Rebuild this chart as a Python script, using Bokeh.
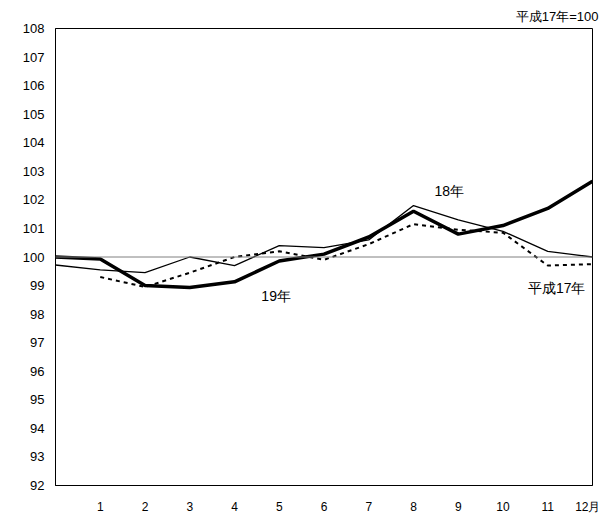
from bokeh.plotting import figure
from bokeh.models import Label, Span, FixedTicker
from bokeh.embed import file_html
from bokeh.resources import INLINE

months = [0,1,2,3,4,5,6,7,8,9,10,11,12]
h19 = [100.0,99.93,99.0,98.93,99.13,99.86,100.1,100.7,101.6,100.8,101.1,101.7,102.65]
h18 = [99.72,99.55,99.45,100.0,99.7,100.4,100.33,100.6,101.8,101.3,100.9,100.2,100.0]
m17 = [1,2,3,4,5,6,7,8,9,10,11,12]
h17 = [99.3,98.95,99.45,100.0,100.2,99.9,100.45,101.15,100.95,100.85,99.7,99.75]
xlabels = {i: str(i) for i in range(1,12)}
xlabels[12] = "12月"

F = "Liberation Sans"
p = figure(width=600, height=516, x_range=(0,12), y_range=(92,108),
           output_backend="svg", toolbar_location=None,
           min_border_left=55, min_border_right=8, min_border_top=28, min_border_bottom=20,
           title="平成17年=100")
p.title.align = "right"
p.title.text_font = F
p.title.text_font_size = "13px"
p.title.text_font_style = "normal"
p.title.text_color = "black"
p.title.offset = -6
p.xgrid.visible = False
p.ygrid.visible = False
p.outline_line_color = "black"
p.xaxis.ticker = FixedTicker(ticks=list(range(1,13)))
p.xaxis.major_label_overrides = xlabels
p.yaxis.ticker = FixedTicker(ticks=list(range(92,109)))
for ax in (p.xaxis[0], p.yaxis[0]):
    ax.major_tick_line_color = None
    ax.minor_tick_line_color = None
    ax.axis_line_color = "black"
    ax.major_label_text_font = F
    ax.major_label_text_font_size = "13px"
    ax.major_label_text_color = "black"
p.xaxis.major_label_text_font_size = "12px"
p.xaxis.major_label_standoff = 8

p.add_layout(Span(location=100, dimension="width", line_color="gray", line_width=1))
p.line(m17, h17, line_color="black", line_width=2, line_dash="4 4")
p.line(months, h18, line_color="black", line_width=1.3)
p.line(months, h19, line_color="black", line_width=3.5)

for x, y, t, a in [(8.8, 102.3, "18年", "center"), (4.6, 98.65, "19年", "left"),
                   (11.2, 98.9, "平成17年", "center")]:
    p.add_layout(Label(x=x, y=y, text=t, text_font=F, text_font_size="14px",
                       text_color="black", text_align=a, text_baseline="middle"))

open("out.html", "w").write(file_html(p, INLINE))
